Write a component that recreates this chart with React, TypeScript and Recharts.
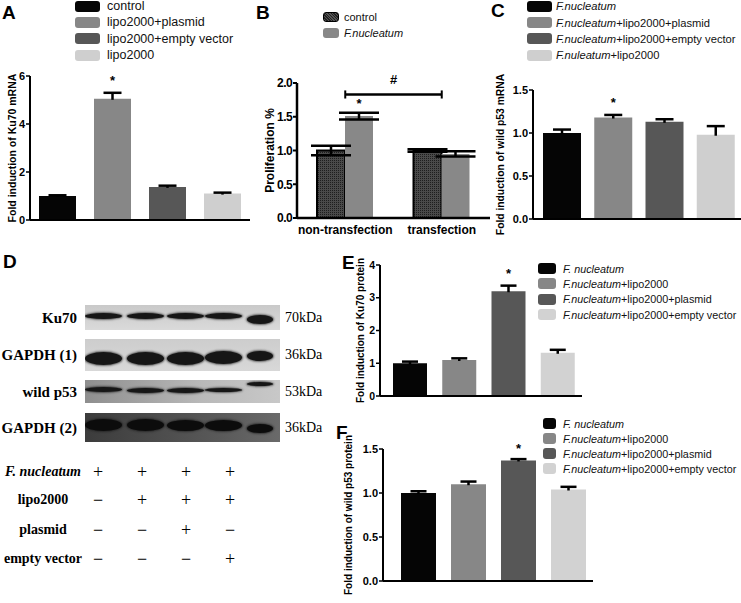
import React from "react";
import {
  BarChart,
  Bar,
  XAxis,
  YAxis,
  Cell,
  ErrorBar,
  LabelList,
  ReferenceLine,
} from "recharts";

const SANS = "'Liberation Sans', Arial, sans-serif";
const SERIF = "'Liberation Serif', 'Times New Roman', serif";

// Panel A: Ku70 mRNA
const A_GROUPS = ["control", "lipo2000+plasmid", "lipo2000+empty vector", "lipo2000"];
const A_MEAN = [1.0, 5.05, 1.38, 1.1];
const A_SEM = [0.03, 0.25, 0.05, 0.04];
const A_STAR = [false, true, false, false];
const A_TICKS = [0, 2, 4, 6];

// Panel B: proliferation
const B_GROUPS = ["non-transfection", "transfection"];
const B_SERIES = ["control", "F.nucleatum"];
const B_CONTROL = [1.0, 1.0];
const B_CONTROL_SEM = [0.07, 0.02];
const B_FN = [1.51, 0.95];
const B_FN_SEM = [0.05, 0.04];
const B_TICKS = [0, 0.5, 1.0, 1.5, 2.0];

// Panel C: wild p53 mRNA
const C_GROUPS = [
  "F.nucleatum",
  "F.nucleatum+lipo2000+plasmid",
  "F.nucleatum+lipo2000+empty vector",
  "F.nuleatum+lipo2000",
];
const C_MEAN = [1.0, 1.18, 1.13, 0.98];
const C_SEM = [0.04, 0.03, 0.03, 0.1];
const C_STAR = [false, true, false, false];
const C_TICKS = [0, 0.5, 1.0, 1.5];

// Panel E: Ku70 protein
const E_GROUPS = [
  "F. nucleatum",
  "F.nucleatum+lipo2000",
  "F.nucleatum+lipo2000+plasmid",
  "F.nucleatum+lipo2000+empty vector",
];
const E_MEAN = [1.0, 1.1, 3.2, 1.32];
const E_SEM = [0.05, 0.05, 0.17, 0.09];
const E_STAR = [false, false, true, false];
const E_TICKS = [0, 1, 2, 3, 4];

// Panel F: wild p53 protein
const F_GROUPS = E_GROUPS;
const F_MEAN = [1.0, 1.1, 1.37, 1.04];
const F_SEM = [0.02, 0.03, 0.015, 0.03];
const F_STAR = [false, false, true, false];
const F_TICKS = [0, 0.5, 1.0, 1.5];

// Panel D: western blot
const BLOT_ROWS = ["Ku70", "GAPDH (1)", "wild p53", "GAPDH (2)"];
const BLOT_KDA = ["70kDa", "36kDa", "53kDa", "36kDa"];
const BLOT_INTENSITY = [
  [0.55, 0.6, 0.62, 0.62, 0.9],
  [1.0, 1.0, 1.0, 1.0, 0.8],
  [0.45, 0.5, 0.5, 0.4, 0.35],
  [0.95, 0.9, 0.88, 0.85, 0.7],
];
const TABLE_ROWS = ["F. nucleatum", "lipo2000", "plasmid", "empty vector"];
const TABLE_SIGNS = [
  ["+", "+", "+", "+"],
  ["−", "+", "+", "+"],
  ["−", "−", "+", "−"],
  ["−", "−", "−", "+"],
];

const GREYS = ["#050505", "#878787", "#575757", "#cfcfcf"];
const E_GREYS = ["#050505", "#878787", "#575757", "#d2d2d2"];

const tickStyle = (size: number) => ({
  fill: "#000",
  fontSize: size,
  fontWeight: "bold" as const,
  fontFamily: SANS,
});

// upper-only SEM whisker, GraphPad style
function tShape(cap: number) {
  return (p: any) => {
    const { x, y, width, height } = p;
    if (!height) return <g />;
    const cx = x + width / 2;
    return (
      <g stroke="#000" strokeWidth={2.5}>
        <line x1={cx} x2={cx} y1={y + height + 1} y2={y} />
        <line x1={cx - cap / 2} x2={cx + cap / 2} y1={y} y2={y} />
      </g>
    );
  };
}

function starContent(flags: boolean[], gap: number) {
  return (p: any) => {
    const { x, y, width, index } = p;
    if (!flags[index]) return null;
    return (
      <text
        x={x + width / 2}
        y={y - gap}
        textAnchor="middle"
        fontSize={13}
        fontWeight="bold"
        fontFamily={SANS}
        fill="#000"
      >
        *
      </text>
    );
  };
}

interface SimpleProps {
  left: number;
  top: number;
  width: number;
  height: number;
  marginTop: number;
  marginBottom?: number;
  yWidth: number;
  groups: string[];
  mean: number[];
  sem: number[];
  star: boolean[];
  ticks: number[];
  colors: string[];
  barSize: number;
  capWidth: number;
  padLeft: number;
  yLabel: string;
  labelOffset: number;
  labelSize: number;
  tickSize: number;
  starGap: number;
}

function SimpleBars(p: SimpleProps) {
  const data = p.groups.map((g, i) => ({ name: g, mean: p.mean[i], sem: p.sem[i] }));
  const top = p.ticks[p.ticks.length - 1];
  return (
    <div style={{ position: "absolute", left: p.left, top: p.top }}>
      <BarChart
        width={p.width}
        height={p.height}
        data={data}
        margin={{ top: p.marginTop, right: 0, left: 0, bottom: p.marginBottom ?? 0 }}
      >
        <XAxis
          dataKey="name"
          tick={false}
          height={14}
          tickSize={4}
          axisLine={{ stroke: "#000", strokeWidth: 2 }}
          tickLine={{ stroke: "#000", strokeWidth: 1.5 }}
          padding={{ left: p.padLeft, right: 0 }}
        />
        <YAxis
          width={p.yWidth}
          domain={[p.ticks[0], top]}
          ticks={p.ticks}
          tickSize={4}
          tickMargin={1}
          interval={0}
          allowDataOverflow
          axisLine={{ stroke: "#000", strokeWidth: 2 }}
          tickLine={{ stroke: "#000", strokeWidth: 1.5 }}
          tick={tickStyle(p.tickSize)}
          tickFormatter={(v: number) => (top < 2 ? v.toFixed(1) : String(v))}
          label={{
            value: p.yLabel,
            angle: -90,
            position: "insideLeft",
            offset: p.labelOffset,
            style: {
              textAnchor: "middle",
              fontSize: p.labelSize,
              fontWeight: "bold",
              fontFamily: SANS,
              fill: "#000",
            },
          }}
        />
        <Bar dataKey="mean" stackId="s" barSize={p.barSize} isAnimationActive={false}>
          {data.map((d, i) => (
            <Cell key={d.name} fill={p.colors[i]} />
          ))}
        </Bar>
        <Bar
          dataKey="sem"
          stackId="s"
          barSize={p.barSize}
          shape={tShape(p.capWidth)}
          isAnimationActive={false}
        >
          <LabelList dataKey="sem" content={starContent(p.star, p.starGap)} />
        </Bar>
      </BarChart>
    </div>
  );
}

function LegendLabel({ text }: { text: string }) {
  if (text.startsWith("F.")) {
    const cut = text.indexOf("+");
    if (cut < 0) return <i>{text}</i>;
    return (
      <>
        <i>{text.slice(0, cut)}</i>
        {text.slice(cut)}
      </>
    );
  }
  return <>{text}</>;
}

function BoxLegend(props: {
  left: number;
  top: number;
  items: string[];
  colors: string[];
  boxW: number;
  boxH: number;
  step: number;
  textGap: number;
  fontSize: number;
  pattern?: boolean;
}) {
  return (
    <div style={{ position: "absolute", left: props.left, top: props.top, fontFamily: SANS }}>
      {props.items.map((it, i) => (
        <div
          key={it}
          style={{
            position: "absolute",
            top: i * props.step,
            left: 0,
            display: "flex",
            alignItems: "center",
            whiteSpace: "nowrap",
            height: props.step,
          }}
        >
          <div
            style={{
              width: props.boxW,
              height: props.boxH,
              borderRadius: 3,
              background:
                props.pattern && i === 0
                  ? "repeating-linear-gradient(45deg,#222 0 1px,#555 1px 2px)"
                  : props.colors[i],
              border: props.pattern && i === 0 ? "1px solid #000" : "none",
              boxSizing: "border-box",
            }}
          />
          <span style={{ marginLeft: props.textGap, fontSize: props.fontSize, color: "#111" }}>
            <LegendLabel text={it} />
          </span>
        </div>
      ))}
    </div>
  );
}

function PanelLetter({ x, y, l }: { x: number; y: number; l: string }) {
  return (
    <div
      style={{
        position: "absolute",
        left: x,
        top: y,
        fontFamily: SANS,
        fontWeight: "bold",
        fontSize: 19,
        lineHeight: "19px",
      }}
    >
      {l}
    </div>
  );
}

function ProliferationChart() {
  const data = B_GROUPS.map((g, i) => ({
    name: g,
    control: B_CONTROL[i],
    controlErr: B_CONTROL_SEM[i],
    fn: B_FN[i],
    fnErr: B_FN_SEM[i],
  }));
  const star = (p: any) => {
    const { x, y, width, height, value, index } = p;
    if (index !== 0) return null;
    const ppu = height / value;
    return (
      <text x={x + width / 2} y={y - B_FN_SEM[0] * ppu - 5} textAnchor="middle" fontSize={13} fontWeight="bold">
        *
      </text>
    );
  };
  return (
    <div style={{ position: "absolute", left: 240, top: 60 }}>
      <BarChart
        width={250}
        height={180}
        data={data}
        margin={{ top: 23, right: 0, left: 0, bottom: 0 }}
        barGap={0}
      >
        <defs>
          <pattern id="hatch" width="2" height="2" patternUnits="userSpaceOnUse">
            <rect width="2" height="2" fill="#4a4a4a" />
            <rect width="1" height="1" fill="#1e1e1e" />
          </pattern>
        </defs>
        <XAxis
          dataKey="name"
          height={22}
          tickLine={false}
          tickMargin={1}
          axisLine={{ stroke: "#000", strokeWidth: 2.5 }}
          tick={tickStyle(12)}
          interval={0}
        />
        <YAxis
          width={57}
          domain={[0, 2]}
          ticks={B_TICKS}
          interval={0}
          tickSize={4}
          tickMargin={1}
          axisLine={{ stroke: "#000", strokeWidth: 2.5 }}
          tickLine={{ stroke: "#000", strokeWidth: 2 }}
          tick={{ ...tickStyle(12), letterSpacing: -0.6 }}
          tickFormatter={(v: number) => v.toFixed(1)}
          label={{
            value: "Proliferation %",
            angle: -90,
            position: "insideLeft",
            offset: 30,
            style: { textAnchor: "middle", fontSize: 12, fontWeight: "bold", fontFamily: SANS, fill: "#000" },
          }}
        />
        <Bar
          dataKey="control"
          barSize={28}
          fill="url(#hatch)"
          stroke="#000"
          strokeWidth={2}
          isAnimationActive={false}
        >
          <ErrorBar dataKey="controlErr" width={20} stroke="#000" strokeWidth={2.5} direction="y" />
        </Bar>
        <Bar dataKey="fn" barSize={28} fill="#888" isAnimationActive={false}>
          <ErrorBar dataKey="fnErr" width={20} stroke="#000" strokeWidth={2.5} direction="y" />
          <LabelList dataKey="fn" content={star} />
        </Bar>
        <ReferenceLine
          segment={[
            { x: B_GROUPS[0], y: 1.83 },
            { x: B_GROUPS[1], y: 1.83 },
          ]}
          stroke="#000"
          strokeWidth={2.5}
          label={{ value: "#", position: "top", offset: 10, fill: "#000", fontSize: 13, fontWeight: "bold" }}
        />
        <ReferenceLine
          segment={[
            { x: B_GROUPS[0], y: 1.77 },
            { x: B_GROUPS[0], y: 1.89 },
          ]}
          stroke="#000"
          strokeWidth={2}
        />
        <ReferenceLine
          segment={[
            { x: B_GROUPS[1], y: 1.77 },
            { x: B_GROUPS[1], y: 1.89 },
          ]}
          stroke="#000"
          strokeWidth={2}
        />
      </BarChart>
    </div>
  );
}

const STRIP_TOP = [305, 339, 380, 413];
const STRIP_H = [25, 32, 23, 29];
const STRIP_BG = [
  "linear-gradient(180deg,#c9c9c9,#dadada)",
  "linear-gradient(180deg,#cdcdcd,#d8d8d8)",
  "linear-gradient(90deg,#8e8e8e,#b9b9b9 60%,#c8c8c8)",
  "linear-gradient(90deg,#3c3c3c,#5a5a5a 70%,#6a6a6a)",
];
const BAND_CENTER = [
  [11, 11, 11, 11, 14],
  [19, 19, 19, 18, 17],
  [9, 10, 10, 10, 4],
  [12, 12, 12, 12, 15],
];
const LANE_X = [18, 60, 100, 138, 175];

function Blot() {
  return (
    <>
      {BLOT_ROWS.map((name, r) => (
        <React.Fragment key={name}>
          <div
            style={{
              position: "absolute",
              left: 0,
              width: 77,
              textAlign: "right",
              top: STRIP_TOP[r] + STRIP_H[r] / 2 - 9,
              fontFamily: SERIF,
              fontWeight: "bold",
              fontSize: 15,
              lineHeight: "18px",
            }}
          >
            {name}
          </div>
          <div
            style={{
              position: "absolute",
              left: 85,
              top: STRIP_TOP[r],
              width: 195,
              height: STRIP_H[r],
              background: STRIP_BG[r],
              overflow: "hidden",
            }}
          >
            {BLOT_INTENSITY[r].map((v, l) => {
              const w = l === 4 ? 26 : 37;
              const h = Math.max(4, Math.round(v * (r === 1 ? 13 : r === 3 ? 13 : 10)));
              return (
                <div
                  key={l}
                  style={{
                    position: "absolute",
                    left: LANE_X[l] - w / 2,
                    top: BAND_CENTER[r][l] - h / 2,
                    width: w,
                    height: h,
                    borderRadius: "50%",
                    background: r === 3 ? "#0c0c0c" : "#161616",
                    boxShadow: "0 0 2px 1px rgba(20,20,20,0.6)",
                  }}
                />
              );
            })}
          </div>
          <div
            style={{
              position: "absolute",
              left: 285,
              top: STRIP_TOP[r] + STRIP_H[r] / 2 - 9,
              fontFamily: SERIF,
              fontSize: 14,
              lineHeight: "18px",
            }}
          >
            {BLOT_KDA[r]}
          </div>
        </React.Fragment>
      ))}
      {TABLE_ROWS.map((name, r) => {
        const cy = [472, 500, 530, 559][r];
        return (
          <React.Fragment key={name}>
            <div
              style={{
                position: "absolute",
                left: 0,
                width: 86,
                textAlign: "center",
                top: cy - 9,
                fontFamily: SERIF,
                fontWeight: "bold",
                fontStyle: r === 0 ? "italic" : "normal",
                fontSize: 14,
                lineHeight: "18px",
              }}
            >
              {name}
            </div>
            {TABLE_SIGNS[r].map((s, l) => (
              <div
                key={l}
                style={{
                  position: "absolute",
                  left: [98, 142, 186, 230][l] - 8,
                  width: 16,
                  textAlign: "center",
                  top: cy - 10,
                  fontFamily: SERIF,
                  fontSize: 18,
                  lineHeight: "20px",
                }}
              >
                {s}
              </div>
            ))}
          </React.Fragment>
        );
      })}
    </>
  );
}

export default function App() {
  return (
    <div
      style={{
        position: "absolute",
        left: 0,
        top: 0,
        width: 741,
        height: 603,
        background: "#fff",
        overflow: "hidden",
        fontFamily: SANS,
      }}
    >
      <PanelLetter x={2} y={3} l="A" />
      <PanelLetter x={256} y={3} l="B" />
      <PanelLetter x={491} y={1} l="C" />
      <PanelLetter x={3} y={252} l="D" />
      <PanelLetter x={342} y={253} l="E" />
      <PanelLetter x={336} y={423} l="F" />

      <BoxLegend
        left={75}
        top={-2}
        items={A_GROUPS}
        colors={GREYS}
        boxW={25}
        boxH={11}
        step={16.3}
        textGap={7}
        fontSize={12.5}
      />
      <SimpleBars
        left={0}
        top={56}
        width={250}
        height={178}
        marginTop={20}
        yWidth={30}
        groups={A_GROUPS}
        mean={A_MEAN}
        sem={A_SEM}
        star={A_STAR}
        ticks={A_TICKS}
        colors={GREYS}
        barSize={37}
        capWidth={18}
        padLeft={0}
        yLabel="Fold induction of Ku70 mRNA"
        labelOffset={12}
        labelSize={10.5}
        tickSize={11}
        starGap={8}
      />

      <BoxLegend
        left={323}
        top={9}
        items={B_SERIES}
        colors={["#333", "#888"]}
        boxW={16}
        boxH={10}
        step={16}
        textGap={5}
        fontSize={11}
        pattern
      />
      <ProliferationChart />

      <BoxLegend
        left={527}
        top={-2}
        items={C_GROUPS}
        colors={GREYS}
        boxW={25}
        boxH={11}
        step={16.4}
        textGap={4}
        fontSize={11.2}
      />
      <SimpleBars
        left={490}
        top={56}
        width={251}
        height={192}
        marginTop={34}
        marginBottom={15}
        yWidth={43}
        groups={C_GROUPS}
        mean={C_MEAN}
        sem={C_SEM}
        star={C_STAR}
        ticks={C_TICKS}
        colors={GREYS}
        barSize={38}
        capWidth={18}
        padLeft={3}
        yLabel="Fold induction of wild p53 mRNA"
        labelOffset={10}
        labelSize={10.3}
        tickSize={11}
        starGap={8}
      />

      <Blot />

      <SimpleBars
        left={330}
        top={255}
        width={252}
        height={155}
        marginTop={10}
        yWidth={50}
        groups={E_GROUPS}
        mean={E_MEAN}
        sem={E_SEM}
        star={E_STAR}
        ticks={E_TICKS}
        colors={E_GREYS}
        barSize={34}
        capWidth={16}
        padLeft={5}
        yLabel="Fold induction of Ku70 protein"
        labelOffset={30}
        labelSize={10}
        tickSize={10.5}
        starGap={8}
      />
      <BoxLegend
        left={538}
        top={261}
        items={E_GROUPS}
        colors={E_GREYS}
        boxW={18}
        boxH={11}
        step={15.3}
        textGap={7}
        fontSize={10.8}
      />

      <SimpleBars
        left={330}
        top={435}
        width={263}
        height={160}
        marginTop={14}
        yWidth={53}
        groups={F_GROUPS}
        mean={F_MEAN}
        sem={F_SEM}
        star={F_STAR}
        ticks={F_TICKS}
        colors={E_GREYS}
        barSize={35}
        capWidth={16}
        padLeft={10}
        yLabel="Fold induction of wild p53 protein"
        labelOffset={18}
        labelSize={10}
        tickSize={11}
        starGap={6}
      />
      <BoxLegend
        left={543}
        top={416}
        items={F_GROUPS}
        colors={E_GREYS}
        boxW={13}
        boxH={11}
        step={15}
        textGap={7}
        fontSize={10.8}
      />
    </div>
  );
}
